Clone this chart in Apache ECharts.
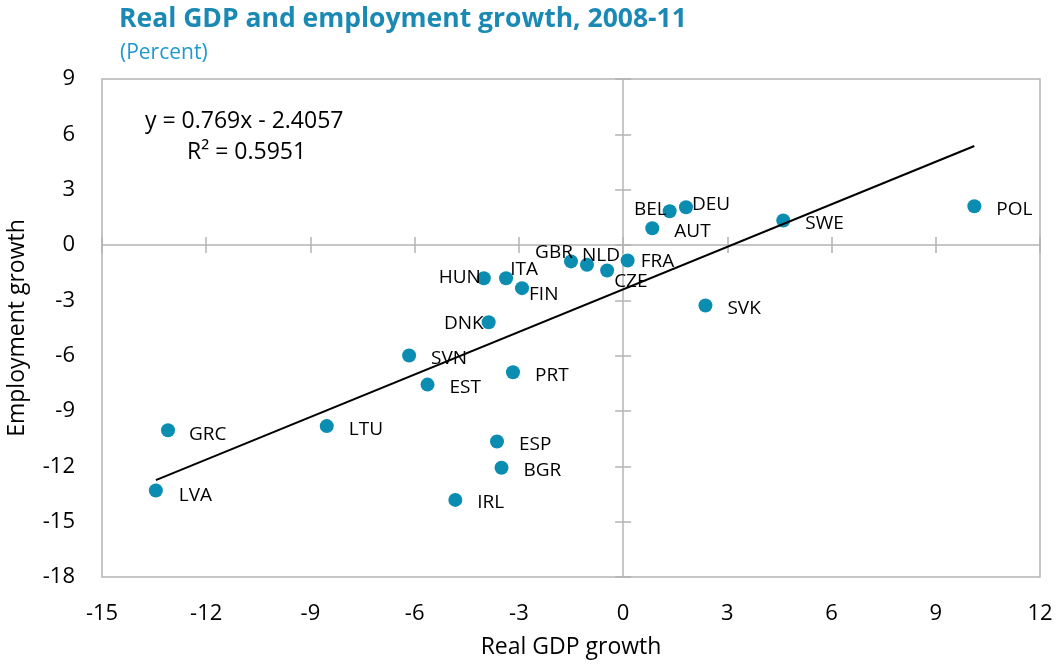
<!DOCTYPE html>
<html>
<head>
<meta charset="UTF-8">
<title>Real GDP and employment growth, 2008-11</title>
<script src="https://cdn.jsdelivr.net/npm/echarts@6/dist/echarts.min.js"></script>
<style>
  html, body { margin: 0; padding: 0; background: #fff; }
  #chart { width: 1057px; height: 666px; }
</style>
</head>
<body>
<div id="chart"></div>
<script>
// values (percent, 2008-11)
const countries = ['POL', 'SWE', 'SVK', 'DEU', 'BEL', 'AUT', 'FRA', 'CZE', 'NLD', 'GBR', 'ITA', 'HUN',
                   'FIN', 'DNK', 'SVN', 'EST', 'PRT', 'GRC', 'LTU', 'ESP', 'BGR', 'IRL', 'LVA'];
const gdpGrowth = [10.11, 4.61, 2.37, 1.81, 1.34, 0.84, 0.13, -0.46, -1.04, -1.50, -3.37, -4.01,
                   -2.91, -3.87, -6.16, -5.63, -3.17, -13.10, -8.53, -3.63, -3.50, -4.83, -13.45];
const empGrowth = [2.10, 1.33, -3.28, 2.05, 1.83, 0.91, -0.84, -1.38, -1.07, -0.89, -1.80, -1.80,
                   -2.34, -4.19, -5.99, -7.57, -6.90, -10.04, -9.82, -10.65, -12.08, -13.82, -13.31];

// trendline as printed on the chart
const trendSlope = 0.769;
const trendIntercept = -2.4057;

const xTicks = { min: -15, max: 12, step: 3 };
const yTicks = { min: -18, max: 9, step: 3 };

// where each label sits relative to its dot: [dx, dy, align]
const labelPlace = {
  DEU: [6, -3, 'left'], BEL: [-3, -2, 'right'], FRA: [13, 1, 'left'], CZE: [7, 11, 'left'],
  NLD: [14, -9, 'center'], GBR: [-17, -9, 'center'], ITA: [18, -9, 'center'], HUN: [-3, -1, 'right'],
  FIN: [7, 6, 'left'], DNK: [-5, 1, 'right'], LVA: [23, 5, 'left'], GRC: [21, 4, 'left']
};

const FONT = '"Open Sans", "Noto Sans", sans-serif';
const GREY = '#b4b4b4';
const TEAL = '#0a8db0';
const DOT = 14;

const points = countries.map((c, i) => {
  const p = labelPlace[c] || [22, 3, 'left'];
  return {
    name: c,
    value: [gdpGrowth[i], empGrowth[i]],
    label: { position: [DOT / 2 + p[0], DOT / 2 + p[1]], align: p[2] }
  };
});

const xMin = Math.min(...gdpGrowth), xMax = Math.max(...gdpGrowth);
const trend = [[xMin, trendSlope * xMin + trendIntercept], [xMax, trendSlope * xMax + trendIntercept]];

// axes that only draw the cross ticks on the zero lines
function zeroX(inside, line) {
  return {
    type: 'value', position: 'bottom', min: xTicks.min, max: xTicks.max, interval: xTicks.step,
    axisLine: { show: line, onZero: true, onZeroAxisIndex: 0, lineStyle: { color: GREY, width: 1.5 } },
    axisTick: { show: true, inside: inside, length: 8, lineStyle: { color: GREY, width: 1.5 } },
    axisLabel: { show: false }, splitLine: { show: false }
  };
}
function zeroY(inside, line) {
  return {
    type: 'value', position: 'left', min: yTicks.min, max: yTicks.max, interval: yTicks.step,
    axisLine: { show: line, onZero: true, onZeroAxisIndex: 0, lineStyle: { color: GREY, width: 1.5 } },
    axisTick: { show: true, inside: inside, length: 8, lineStyle: { color: GREY, width: 1.5 } },
    axisLabel: { show: false }, splitLine: { show: false }
  };
}

const chart = echarts.init(document.getElementById('chart'));
chart.setOption({
  animation: false,
  textStyle: { fontFamily: FONT },
  title: [
    { text: 'Real GDP and employment growth, 2008-11', left: 114, top: 1,
      textStyle: { fontFamily: FONT, fontSize: 26.5, fontWeight: 'bold', color: '#1a8ab5' } },
    { text: '(Percent)', left: 115, top: 38,
      textStyle: { fontFamily: FONT, fontSize: 21, fontWeight: 'normal', color: '#2299cc' } }
  ],
  grid: {
    left: 102, top: 79, right: 17, bottom: 89, containLabel: false, outerBoundsMode: 'none',
    show: true, borderColor: GREY, borderWidth: 1.5, backgroundColor: 'transparent'
  },
  xAxis: [
    {
      type: 'value', position: 'bottom', min: xTicks.min, max: xTicks.max, interval: xTicks.step,
      axisLine: { show: false, onZero: false }, axisTick: { show: false }, splitLine: { show: false },
      axisLabel: { margin: 26, fontSize: 22, color: '#000', fontFamily: FONT },
      name: 'Real GDP growth', nameLocation: 'middle', nameGap: 59,
      nameTextStyle: { fontSize: 23, color: '#000', fontFamily: FONT }
    },
    zeroX(false, true),
    zeroX(true, false)
  ],
  yAxis: [
    {
      type: 'value', position: 'left', min: yTicks.min, max: yTicks.max, interval: yTicks.step,
      axisLine: { show: false, onZero: false }, axisTick: { show: false }, splitLine: { show: false },
      axisLabel: { margin: 27, fontSize: 22, color: '#000', fontFamily: FONT },
      name: 'Employment growth', nameLocation: 'middle', nameGap: 73,
      nameTextStyle: { fontSize: 23, color: '#000', fontFamily: FONT }
    },
    zeroY(false, true),
    zeroY(true, false)
  ],
  graphic: [
    { type: 'text', left: 145, top: 110,
      style: { text: 'y = 0.769x - 2.4057', fontSize: 23, fontFamily: FONT, fill: '#000' } },
    { type: 'text', left: 187, top: 141,
      style: { text: 'R² = 0.5951', fontSize: 23, fontFamily: FONT, fill: '#000' } }
  ],
  series: [
    {
      type: 'scatter', xAxisIndex: 0, yAxisIndex: 0, symbolSize: DOT, z: 3,
      itemStyle: { color: TEAL, opacity: 1 },
      label: { show: true, formatter: '{b}', verticalAlign: 'middle', fontSize: 19, color: '#000', fontFamily: FONT },
      data: points
    },
    {
      type: 'line', xAxisIndex: 0, yAxisIndex: 0, data: trend, symbol: 'none', silent: true, z: 4,
      lineStyle: { color: '#000', width: 2 }
    }
  ]
});
</script>
</body>
</html>
